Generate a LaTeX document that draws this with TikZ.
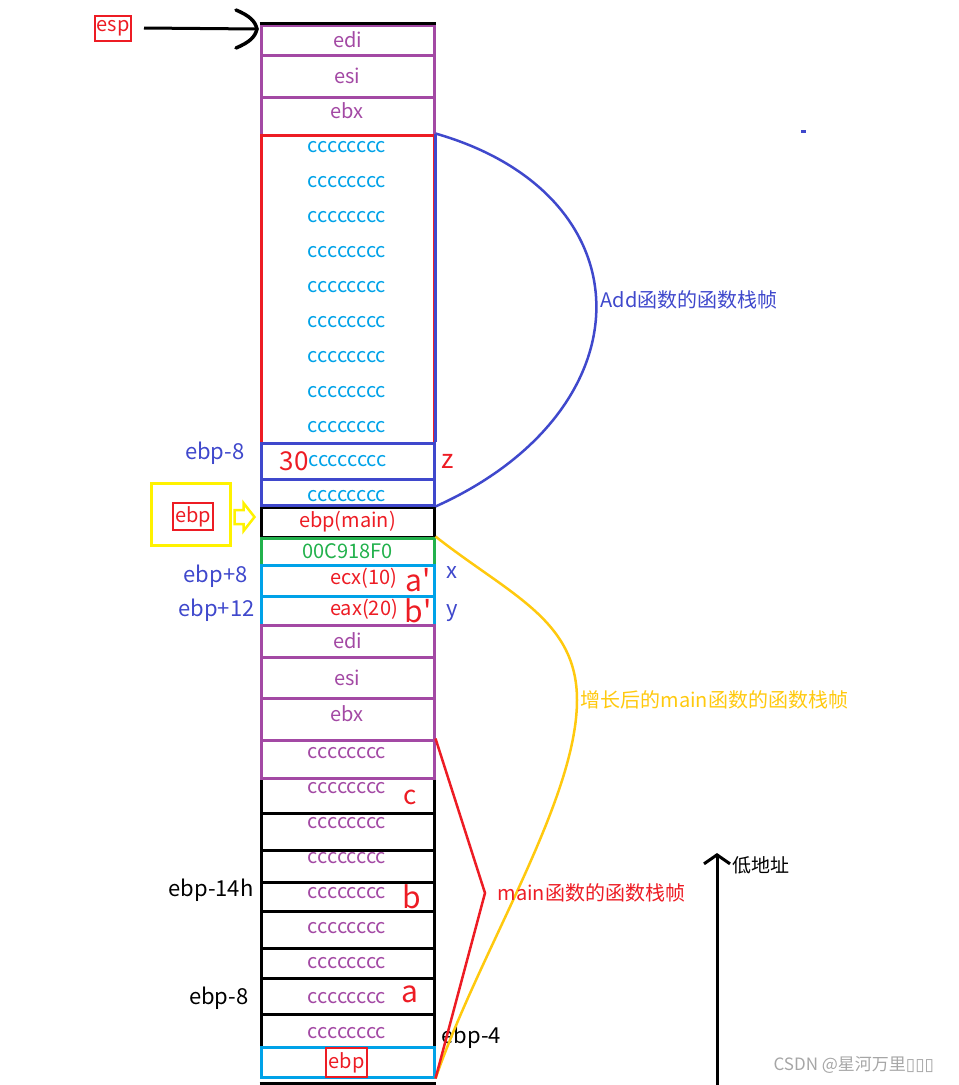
\documentclass[tikz,border=0pt]{standalone}
\usepackage{fontspec}
\setmainfont{Noto Sans CJK SC}
\newfontfamily\boxfont{DejaVu Sans}
\usetikzlibrary{positioning, arrows.meta, calc}
\definecolor{stackpurple}{HTML}{A349A4}
\definecolor{stackred}{HTML}{ED1C24}
\definecolor{stackblue}{HTML}{3F48CC}
\definecolor{stackcyan}{HTML}{00A2E8}
\definecolor{stackgreen}{HTML}{22B14C}
\definecolor{stackgold}{HTML}{FFC90E}
\definecolor{stackyellow}{HTML}{FFF200}

\begin{document}
\begin{tikzpicture}[x=1pt, y=-1pt, font=\fontsize{20}{22}\selectfont,
    cell/.style={draw=#1, line width=3pt, minimum width=173pt, inner sep=0pt},
    tag/.style={draw=stackred, line width=2pt, text=stackred, inner sep=0pt},
    big/.style={font=\fontsize{30}{32}\selectfont, text=stackred},
    mid/.style={font=\fontsize{26}{28}\selectfont, text=stackred},
    side/.style={font=\fontsize{22}{24}\selectfont},
    frame/.style={font=\fontsize{20}{22}\selectfont, anchor=west}]
  \useasboundingbox (0,0) rectangle (959,1085);

  % esp pointer
  \node[tag, minimum width=36pt, minimum height=25pt] (esp) at (113,28) {esp};
  \coordinate (sptop) at (257,29);
  \draw[line width=3pt] ([xshift=12pt]esp.east) -- (sptop);
  \draw[line width=3.5pt, line cap=round] (sptop) ++(-21,-19) .. controls ++(14,6) and ++(-2,-8) .. (sptop)
    .. controls ++(-2,8) and ++(14,-6) .. ++(-21,19);

  % main frame (after growth)
  \node[cell=black, minimum height=30pt, text=stackred] (oldebp) at (347.5,522) {ebp(main)};
  \node[cell=stackgreen, minimum height=27pt, text=stackgreen] (retaddr) at (347.5,551.5) {00C918F0};
  \node[cell=stackcyan, minimum height=31pt] (argx) at (347.5,580.5) {};
  \node[cell=stackcyan, minimum height=29pt] (argy) at (347.5,610.5) {};
  \node[text=stackred] (argxt) at (364,578) {ecx(10)};
  \node[text=stackred] (argyt) at (364,609) {eax(20)};
  \node[big] (aprime) at (418,580) {a\textquotesingle};
  \node[big] (bprime) at (418,611) {b\textquotesingle};
  \node[side, text=stackblue, anchor=east] (xaddr) at (251,576) {ebp+8};
  \node[side, text=stackblue, anchor=east] (yaddr) at (258,610) {ebp+12};
  \node[side, text=stackblue] (xname) at (452,573) {x};
  \node[side, text=stackblue] (yname) at (452,613) {y};

  \node[cell=stackpurple, minimum height=32pt, text=stackpurple] (edi2) at (347.5,641) {edi};
  \node[cell=stackpurple, minimum height=41pt, text=stackpurple] (esi2) at (347.5,677.5) {esi};
  \node[cell=stackpurple, minimum height=42pt] (ebx2) at (347.5,719) {};
  \node[text=stackpurple] (ebx2t) at (347,714) {ebx};
  \foreach \a/\b [count=\i] in {778/813, 813/850, 850/882, 882/911, 911/948, 948/978, 978/1014, 1014/1047}
    \node[cell=black, minimum height={\b-\a}] (loc\i) at (347.5,{(\a+\b)/2}) {};
  \node[cell=stackpurple, minimum height=38pt] (loc0) at (347.5,759) {};
  \foreach \i in {0,...,8}
    \node[text=stackpurple] (loct\i) at (347,{753+35*\i}) {cccccccc};
  \node[cell=stackcyan, minimum height=30pt] (ebpcell) at (347.5,1062) {};
  \node[tag, minimum width=41pt, minimum height=29pt] (ebpmark) at (346.5,1062.5) {ebp};
  \draw[line width=3pt] ([yshift=-5pt]ebpcell.south west) -- ([yshift=-5pt]ebpcell.south east);

  \node[mid] (cvar) at (410,797) {c};
  \node[big] (bvar) at (412,897) {b};
  \node[big] (avar) at (410,994) {a};
  \node[side, anchor=east] (baddr) at (257,890) {ebp-14h};
  \node[side, anchor=east] (aaddr) at (252,998) {ebp-8};
  \node[side, anchor=west] (caddr) at (438,1037) {ebp-4};

  % Add frame
  \node[cell=stackpurple, minimum height=30pt, text=stackpurple] (edi1) at (347.5,40) {edi};
  \node[cell=stackpurple, minimum height=42pt, text=stackpurple] (esi1) at (347.5,76) {esi};
  \node[cell=stackpurple, minimum height=38pt] (ebx1) at (347.5,116) {};
  \node[text=stackpurple] (ebx1t) at (347,111) {ebx};
  \draw[line width=3pt] (edi1.north west) -- (edi1.north east);
  \node[cell=stackred, minimum height=308pt] (pad1) at (347.5,289) {};
  \foreach \i in {0,...,8}
    \node[text=stackcyan] (pad1t\i) at (347,{147+35*\i}) {cccccccc};
  \node[cell=stackblue, minimum height=36pt, text=stackcyan] (zvar) at (347.5,461) {cccccccc};
  \node[cell=stackblue, minimum height=26pt] (pad2) at (347.5,492) {};
  \node[text=stackcyan] (pad2t) at (347,496) {cccccccc};
  \draw[stackblue, line width=3pt] (pad1.north east) -- (zvar.north east);
  \node[mid] (thirty) at (294,461) {30};
  \node[mid] (zname) at (448,461) {z};
  \node[side, text=stackblue, anchor=east] (zaddr) at (248,453) {ebp-8};

  % ebp marker
  \node[draw=stackyellow, line width=3pt, minimum width=79pt, minimum height=62pt] (ebpbox) at (190.5,514) {};
  \node[tag, minimum width=40pt, minimum height=27pt] (ebpname) at (193,516.5) {ebp};
  \draw[stackyellow, line width=2.5pt] ([xshift=3pt, yshift=-3pt]ebpbox.east) ++(0,-7) -- ++(9,0) -- ++(0,-7)
    -- ++(11,14) -- ++(-11,14) -- ++(0,-7) -- ++(-9,0) -- cycle;

  % frame braces
  \draw[stackblue, line width=2.5pt] (pad1.north east) .. controls (650,195) and (650,410) .. (pad2.south east);
  \coordinate (addtip) at (597,300);
  \node[frame, text=stackblue, right=0pt of addtip] (addname) {Add函数的函数栈帧};

  \coordinate (growtip) at (577,700);
  \draw[stackgold, line width=2.5pt] (retaddr.north east) .. controls (510,595) and (577,620) .. (growtip)
    .. controls (577,800) and (480,950) .. (ebpcell.south east);
  \node[frame, text=stackgold, right=0pt of growtip] (growname) {增长后的main函数的函数栈帧};

  \coordinate (maintip) at (485,893);
  \draw[stackred, line width=2.5pt] (loc0.north east) -- (maintip) -- (ebpcell.south east);
  \node[frame, text=stackred, right=9pt of maintip] (mainname) {main函数的函数栈帧};

  % address direction
  \coordinate (lowbase) at (717,1085);
  \coordinate (lowtip) at (717,853);
  \draw[line width=3pt, -{Straight Barb[length=9pt, width=26pt]}] (lowbase) -- (lowtip);
  \node[anchor=west, font=\fontsize{19}{21}\selectfont] (lowname) at (729,865) {低地址};

  \fill[stackblue] (801,130) rectangle (806,133);
  \node[anchor=west, text=gray!70, font=\fontsize{17}{19}\selectfont] (mark) at (770,1065) {CSDN @星河万里{\boxfont ▯▯▯}};
\end{tikzpicture}
\end{document}
